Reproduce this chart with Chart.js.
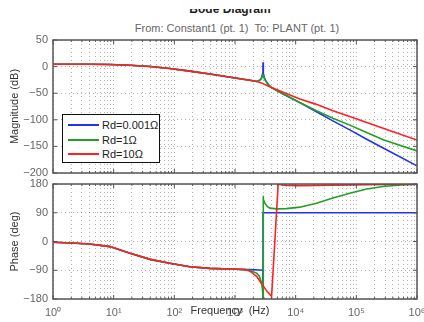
<!DOCTYPE html>
<html>
<head>
<meta charset="utf-8">
<script src="https://cdn.jsdelivr.net/npm/chart.js@4.4.1/dist/chart.umd.min.js"></script>
<style>
html,body{margin:0;padding:0;background:#fff;}
#wrap{position:relative;width:424px;height:322px;overflow:hidden;font-family:"Liberation Sans",Arial,sans-serif;}
canvas{position:absolute;left:0;}
#c1{top:34px;}
#c2{top:178px;}
.t{position:absolute;white-space:nowrap;transform:translateX(-50%);}
#legend{position:absolute;left:62px;top:114px;width:96px;height:47px;border:1.5px solid #111;background:#fff;font-size:11px;color:#222;}
.lrow{position:absolute;left:0;height:14px;line-height:14px;width:96px;}
.lline{position:absolute;left:5px;top:6px;width:31px;height:2px;}
.ltext{position:absolute;left:39px;top:0;white-space:nowrap;}
</style>
</head>
<body>
<div id="wrap">
  <div style="position:absolute;left:0;top:9px;width:424px;height:9px;overflow:hidden;">
    <div class="t" style="left:230px;top:-7px;font-size:12px;font-weight:bold;color:#222;line-height:14px;">Bode Diagram</div>
  </div>
  <div class="t" style="left:237px;top:21px;font-size:11px;color:#666;line-height:14px;">From: Constant1 (pt. 1)&nbsp; To: PLANT (pt. 1)</div>
  <canvas id="c1" width="424" height="146"></canvas>
  <canvas id="c2" width="424" height="144"></canvas>
  <div class="t" style="left:230px;top:303px;font-size:11px;color:#333;line-height:14px;">Frequency&nbsp; (Hz)</div>
  <div id="legend"></div>
</div>
<script>
// ---------------- data ----------------
const seriesLabels = ['Rd=0.001\u03A9', 'Rd=1\u03A9', 'Rd=10\u03A9'];
const seriesColors = ['#2233ee', '#22a022', '#ff2020'];

// common low-frequency part (all three curves overlap)
const magFreqLow   = [1, 2, 4, 8.7, 18.6, 40, 84, 180, 385, 1070, 1760, 2300];
const magLow       = [4.5, 4.4, 4.3, 3.9, 2.4, 0.3, -3.5, -8.5, -14, -22, -25.5, -28];
const phaseFreqLow = [1, 2, 4, 8.7, 18.6, 40, 84, 180, 385, 1070, 1500];
const phaseLow     = [-2.5, -4.5, -8, -16, -37, -56, -68, -79, -84, -87, -88];

// Rd = 0.001 ohm (blue)
const magFreqBlue   = [2600, 2750, 2850, 2890, 2900, 2910, 2950, 3050, 3300, 3600, 4000, 6200, 11700, 22000, 41000, 78000, 148000, 277000, 1000000];
const magBlue       = [-25, -21, -13, 0, 8, 0, -13, -21, -29, -35, -39.5, -51.5, -67.7, -85, -102, -119, -136.5, -153, -186.5];
const phaseFreqBlue = [1760, 2500, 2880, 2900, 2902, 10000, 1000000];
const phaseBlue     = [-88, -89, -90, -180, 90, 90, 90];

// Rd = 1 ohm (green)
const magFreqGreen   = [2600, 2750, 2850, 2900, 2950, 3050, 3300, 3600, 4000, 6200, 11700, 22000, 41000, 78000, 148000, 277000, 1000000];
const magGreen       = [-25, -21, -17, -15.5, -18, -22, -29, -34.5, -39.5, -51, -67.5, -83, -97, -110, -124, -137.5, -158.5];
const phaseFreqGreen = [1760, 2270, 2500, 2700, 2820, 2890, 2900, 2905, 2950, 3110, 3400, 3760, 4850, 7000, 11700, 22000, 41000, 78000, 148000, 277000, 530000, 1000000];
const phaseGreen     = [-91, -99, -108, -125, -145, -172, -180, 143, 132, 120, 110, 104.5, 102, 103, 107.5, 120, 136, 151, 164.5, 172, 177, 179];

// Rd = 10 ohm (red)
const magFreqRed   = [2600, 2900, 3300, 4000, 6200, 11700, 22000, 41000, 78000, 148000, 277000, 1000000];
const magRed       = [-30, -32, -35, -39.5, -48, -61, -71, -83, -94, -105, -116, -138];
const phaseFreqRed = [1760, 2270, 2700, 3090, 3500, 4010, 5150, 7000, 12000, 40000, 150000, 1000000];
const phaseRed     = [-93, -109, -130, -146, -160, -172, 179, 175.5, 175, 176.5, 178, 179.5];

const magTicks   = [-200, -150, -100, -50, 0, 50];
const phaseTicks = [-180, -90, 0, 90, 180];
const freqDecades = ['10\u2070', '10\u00B9', '10\u00B2', '10\u00B3', '10\u2074', '10\u2075', '10\u2076'];

// ---------------- helpers ----------------
function pts(fLow, vLow, f, v) {
  const out = [];
  fLow.forEach((x, i) => out.push({x: x, y: vLow[i]}));
  f.forEach((x, i) => out.push({x: x, y: v[i]}));
  return out;
}
const xGridValues = [];
for (let e = 0; e < 6; e++) for (let m = 1; m < 10; m++) xGridValues.push(m * Math.pow(10, e));
xGridValues.push(1e6);

function isDecade(v) { const e = Math.log10(v); return Math.abs(e - Math.round(e)) < 1e-9; }

Chart.defaults.font.family = "'Liberation Sans', Arial, sans-serif";
Chart.defaults.font.size = 11;

const framePlugin = {
  id: 'frame',
  afterDatasetsDraw(chart) {
    const {ctx, chartArea: a, scales} = chart;
    ctx.save();
    ctx.strokeStyle = '#555';
    ctx.lineWidth = 1;
    const ln = (x1, y1, x2, y2) => { ctx.beginPath(); ctx.moveTo(x1, y1); ctx.lineTo(x2, y2); ctx.stroke(); };
    scales.y.ticks.forEach(t => {
      const p = scales.y.getPixelForValue(t.value);
      ln(a.left, p, a.left + 4, p); ln(a.right, p, a.right - 4, p);
    });
    scales.x.ticks.forEach(t => {
      const p = scales.x.getPixelForValue(t.value);
      const len = isDecade(t.value) ? 4 : 2;
      ln(p, a.top, p, a.top + len); ln(p, a.bottom, p, a.bottom - len);
    });
    ctx.lineWidth = 1.5;
    ctx.strokeRect(a.left, a.top, a.right - a.left, a.bottom - a.top);
    ctx.restore();
  }
};

const gridDash = [1, 3];
const gridColor = 'rgba(0,0,0,0.3)';

function makeChart(id, datasets, yMin, yMax, yTicks, yTitle, showX, padding, xHeight) {
  return new Chart(document.getElementById(id), {
    type: 'line',
    data: { datasets: datasets },
    plugins: [framePlugin],
    options: {
      responsive: false,
      animation: false,
      devicePixelRatio: 1,
      layout: { padding: padding },
      plugins: { legend: { display: false }, tooltip: { enabled: false } },
      elements: { point: { radius: 0 }, line: { borderWidth: 1.6, tension: 0 } },
      scales: {
        x: {
          type: 'logarithmic', min: 1, max: 1e6,
          afterBuildTicks: (s) => { s.ticks = xGridValues.map(v => ({value: v, major: isDecade(v)})); },
          afterFit: (s) => { s.height = xHeight; s.paddingLeft = 0; s.paddingRight = 0; },
          grid: { color: gridColor, lineWidth: 1, drawTicks: false, borderDash: gridDash },
          border: { display: false, dash: gridDash },
          ticks: {
            display: showX, autoSkip: false, maxRotation: 0, padding: 7, color: '#666',
            callback: (v) => isDecade(v) ? freqDecades[Math.round(Math.log10(v))] : ''
          }
        },
        y: {
          type: 'linear', min: yMin, max: yMax,
          afterBuildTicks: (s) => { s.ticks = yTicks.map(v => ({value: v})); },
          afterFit: (s) => { s.width = 53; s.paddingTop = 0; s.paddingBottom = 0; },
          grid: { color: gridColor, lineWidth: 1, drawTicks: false, borderDash: gridDash },
          border: { display: false, dash: gridDash },
          ticks: { padding: 5, color: '#666', callback: (v) => String(v).replace('-', '\u2212') },
          title: { display: true, text: yTitle, color: '#333', font: { size: 11 }, padding: { top: 8, bottom: 0 } }
        }
      }
    }
  });
}

const orders = [3, 2, 1];
const magSets = [
  [magFreqBlue, magBlue], [magFreqGreen, magGreen], [magFreqRed, magRed]
].map((s, i) => ({
  label: seriesLabels[i], borderColor: seriesColors[i], backgroundColor: seriesColors[i],
  data: pts(magFreqLow, magLow, s[0], s[1]), order: orders[i]
}));
const phaseSets = [
  [phaseFreqBlue, phaseBlue], [phaseFreqGreen, phaseGreen], [phaseFreqRed, phaseRed]
].map((s, i) => ({
  label: seriesLabels[i], borderColor: seriesColors[i], backgroundColor: seriesColors[i],
  data: pts(phaseFreqLow, phaseLow, s[0], s[1]), order: orders[i]
}));

makeChart('c1', magSets, -200, 50, magTicks, 'Magnitude (dB)', false, {top: 6, right: 7, bottom: 7, left: 0}, 0);
makeChart('c2', phaseSets, -180, 180, phaseTicks, 'Phase (deg)', true, {top: 6, right: 7, bottom: 0, left: 0}, 23);

// legend built from the series labels/colours
const leg = document.getElementById('legend');
seriesLabels.forEach((lab, i) => {
  const row = document.createElement('div');
  row.className = 'lrow';
  row.style.top = (3 + i * 14.7) + 'px';
  const line = document.createElement('div');
  line.className = 'lline';
  line.style.background = seriesColors[i];
  const txt = document.createElement('div');
  txt.className = 'ltext';
  txt.textContent = lab;
  row.appendChild(line);
  row.appendChild(txt);
  leg.appendChild(row);
});
</script>
</body>
</html>
